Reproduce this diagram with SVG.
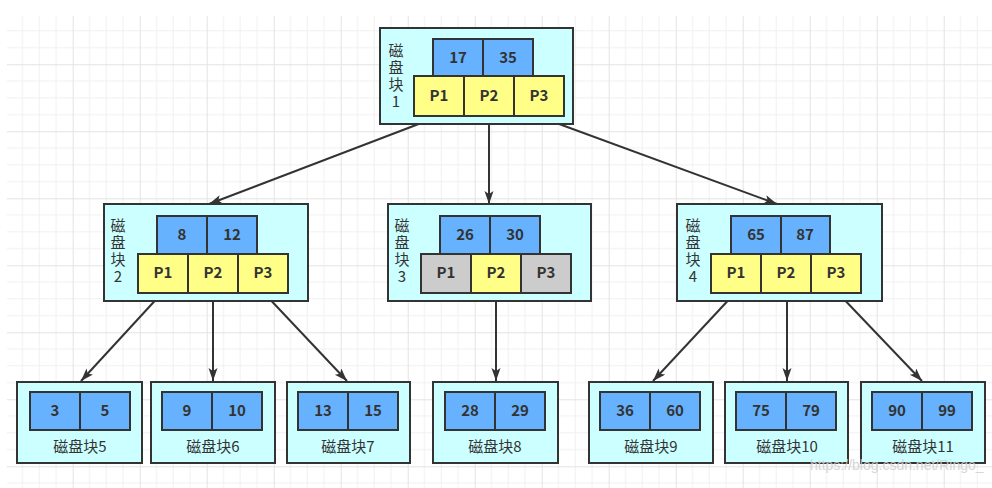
<svg xmlns="http://www.w3.org/2000/svg" width="992" height="488" viewBox="0 0 992 488">
  <defs>
    <pattern id="grid" patternUnits="userSpaceOnUse" x="5.7" y="-2.7" width="67" height="67">
      <path d="M16.75 0V67M33.5 0V67M50.25 0V67M0 16.75H67M0 33.5H67M0 50.25H67" stroke="#f0f0f0" stroke-width="1" fill="none"/>
      <path d="M0.5 0V67M0 0.5H67" stroke="#e3e3e3" stroke-width="1" fill="none"/>
    </pattern>
    <marker id="arrow" markerUnits="userSpaceOnUse" markerWidth="14" markerHeight="10" refX="13" refY="4.5" orient="auto">
      <path d="M0,0 L13,4.5 L0,9 L3,4.5 z" fill="#333333"/>
    </marker>
    <style>
      .box { fill: #ccffff; stroke: #333333; stroke-width: 2; }
      .key { fill: #66b2ff; stroke: #333333; stroke-width: 2; }
      .ptr { fill: #ffff88; stroke: #333333; stroke-width: 2; }
      .off { fill: #cccccc; stroke: #333333; stroke-width: 2; }
      .num { font-family: "Noto Sans CJK SC", "Liberation Sans", sans-serif; font-size: 15px; font-weight: bold; fill: #333333; text-anchor: middle; }
      .lbl { font-family: "Noto Sans CJK SC", "Liberation Sans", sans-serif; font-size: 15px; fill: #333333; text-anchor: middle; }
      .vlbl { font-family: "Noto Sans CJK SC", "Liberation Sans", sans-serif; font-size: 15px; fill: #333333; writing-mode: vertical-rl; text-orientation: upright; letter-spacing: 2px; }
      .edge { stroke: #333333; stroke-width: 2; fill: none; marker-end: url(#arrow); }
    </style>
  </defs>

  <rect width="992" height="488" fill="#ffffff"/>
  <rect x="7" y="16" width="985" height="472" fill="url(#grid)"/>

  <!-- connectors -->
  <g id="edges">
    <line class="edge" x1="437" y1="117" x2="209" y2="204"/>
    <line class="edge" x1="489" y1="117" x2="489" y2="204"/>
    <line class="edge" x1="540" y1="117" x2="777" y2="204"/>
    <line class="edge" x1="162" y1="293" x2="81" y2="381"/>
    <line class="edge" x1="213" y1="293" x2="213" y2="381"/>
    <line class="edge" x1="264" y1="293" x2="347" y2="381"/>
    <line class="edge" x1="496" y1="293" x2="496" y2="381"/>
    <line class="edge" x1="735" y1="293" x2="653" y2="381"/>
    <line class="edge" x1="787" y1="293" x2="787" y2="381"/>
    <line class="edge" x1="838" y1="293" x2="922" y2="381"/>
  </g>

  <!-- disk block 1 (root) -->
  <g id="block1">
    <rect class="box" x="380" y="28" width="193" height="96"/>
    <text class="vlbl" x="396" y="43">磁盘块1</text>
    <rect class="key" x="433" y="39" width="50" height="37"/>
    <rect class="key" x="483" y="39" width="50" height="37"/>
    <text class="num" x="458" y="63">17</text>
    <text class="num" x="508" y="63">35</text>
    <rect class="ptr" x="414" y="76" width="50" height="40"/>
    <rect class="ptr" x="464" y="76" width="50" height="40"/>
    <rect class="ptr" x="514" y="76" width="50" height="40"/>
    <text class="num" x="439" y="101">P1</text>
    <text class="num" x="489" y="101">P2</text>
    <text class="num" x="539" y="101">P3</text>
  </g>

  <!-- disk block 2 -->
  <g id="block2">
    <rect class="box" x="104" y="204" width="204" height="97"/>
    <text class="vlbl" x="118" y="218">磁盘块2</text>
    <rect class="key" x="157" y="216" width="50" height="38"/>
    <rect class="key" x="207" y="216" width="50" height="38"/>
    <text class="num" x="182" y="240">8</text>
    <text class="num" x="232" y="240">12</text>
    <rect class="ptr" x="138" y="254" width="50" height="39"/>
    <rect class="ptr" x="188" y="254" width="50" height="39"/>
    <rect class="ptr" x="238" y="254" width="50" height="39"/>
    <text class="num" x="163" y="278">P1</text>
    <text class="num" x="213" y="278">P2</text>
    <text class="num" x="263" y="278">P3</text>
  </g>

  <!-- disk block 3 -->
  <g id="block3">
    <rect class="box" x="388" y="204" width="203" height="97"/>
    <text class="vlbl" x="402" y="218">磁盘块3</text>
    <rect class="key" x="440" y="216" width="50" height="38"/>
    <rect class="key" x="490" y="216" width="50" height="38"/>
    <text class="num" x="465" y="240">26</text>
    <text class="num" x="515" y="240">30</text>
    <rect class="off" x="421" y="254" width="50" height="39"/>
    <rect class="ptr" x="471" y="254" width="50" height="39"/>
    <rect class="off" x="521" y="254" width="50" height="39"/>
    <text class="num" x="446" y="278">P1</text>
    <text class="num" x="496" y="278">P2</text>
    <text class="num" x="546" y="278">P3</text>
  </g>

  <!-- disk block 4 -->
  <g id="block4">
    <rect class="box" x="677" y="204" width="205" height="97"/>
    <text class="vlbl" x="693" y="218">磁盘块4</text>
    <rect class="key" x="731" y="216" width="50" height="38"/>
    <rect class="key" x="781" y="216" width="49" height="38"/>
    <text class="num" x="756" y="240">65</text>
    <text class="num" x="805" y="240">87</text>
    <rect class="ptr" x="711" y="254" width="50" height="39"/>
    <rect class="ptr" x="761" y="254" width="50" height="39"/>
    <rect class="ptr" x="811" y="254" width="50" height="39"/>
    <text class="num" x="736" y="278">P1</text>
    <text class="num" x="786" y="278">P2</text>
    <text class="num" x="836" y="278">P3</text>
  </g>

  <!-- leaf blocks -->
  <g id="block5">
    <rect class="box" x="17" y="382" width="125" height="81"/>
    <rect class="key" x="30" y="392" width="50" height="38"/>
    <rect class="key" x="80" y="392" width="50" height="38"/>
    <text class="num" x="55" y="416">3</text>
    <text class="num" x="105" y="416">5</text>
    <text class="lbl" x="80" y="452">磁盘块5</text>
  </g>
  <g id="block6">
    <rect class="box" x="151" y="382" width="124" height="81"/>
    <rect class="key" x="162" y="392" width="50" height="38"/>
    <rect class="key" x="212" y="392" width="50" height="38"/>
    <text class="num" x="187" y="416">9</text>
    <text class="num" x="237" y="416">10</text>
    <text class="lbl" x="213" y="452">磁盘块6</text>
  </g>
  <g id="block7">
    <rect class="box" x="287" y="382" width="123" height="81"/>
    <rect class="key" x="298" y="392" width="50" height="38"/>
    <rect class="key" x="348" y="392" width="50" height="38"/>
    <text class="num" x="323" y="416">13</text>
    <text class="num" x="373" y="416">15</text>
    <text class="lbl" x="348" y="452">磁盘块7</text>
  </g>
  <g id="block8">
    <rect class="box" x="433" y="382" width="125" height="81"/>
    <rect class="key" x="445" y="392" width="50" height="38"/>
    <rect class="key" x="495" y="392" width="50" height="38"/>
    <text class="num" x="470" y="416">28</text>
    <text class="num" x="520" y="416">29</text>
    <text class="lbl" x="495" y="452">磁盘块8</text>
  </g>
  <g id="block9">
    <rect class="box" x="589" y="382" width="124" height="81"/>
    <rect class="key" x="600" y="392" width="50" height="38"/>
    <rect class="key" x="650" y="392" width="50" height="38"/>
    <text class="num" x="625" y="416">36</text>
    <text class="num" x="675" y="416">60</text>
    <text class="lbl" x="651" y="452">磁盘块9</text>
  </g>
  <g id="block10">
    <rect class="box" x="725" y="382" width="123" height="81"/>
    <rect class="key" x="736" y="392" width="50" height="38"/>
    <rect class="key" x="786" y="392" width="50" height="38"/>
    <text class="num" x="761" y="416">75</text>
    <text class="num" x="811" y="416">79</text>
    <text class="lbl" x="787" y="452">磁盘块10</text>
  </g>
  <g id="block11">
    <rect class="box" x="861" y="382" width="124" height="81"/>
    <rect class="key" x="872" y="392" width="50" height="38"/>
    <rect class="key" x="922" y="392" width="50" height="38"/>
    <text class="num" x="897" y="416">90</text>
    <text class="num" x="947" y="416">99</text>
    <text class="lbl" x="923" y="452">磁盘块11</text>
  </g>

  <!-- source url -->
  <text x="810" y="470" font-family="Liberation Sans, sans-serif" font-size="14" fill="#d0d0d0" opacity="0.85">https://blog.csdn.net/Ringo_</text>
</svg>
